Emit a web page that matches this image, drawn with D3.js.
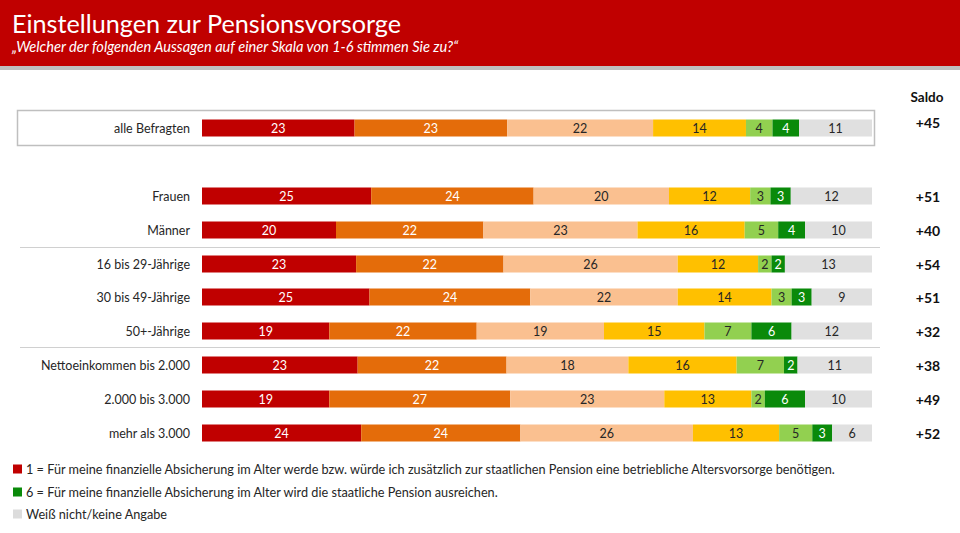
<!DOCTYPE html>
<html><head><meta charset="utf-8">
<script src="https://cdn.jsdelivr.net/npm/d3@7"></script>
<style>
html,body{margin:0;padding:0;background:#fff;}
svg{display:block;font-family:Lato,"Open Sans",sans-serif;}
</style></head>
<body>
<svg id="chart" width="960" height="533"></svg>
<script>
const categories = ["alle Befragten","Frauen","Männer","16 bis 29-Jährige","30 bis 49-Jährige","50+-Jährige","Nettoeinkommen bis 2.000","2.000 bis 3.000","mehr als 3.000"];
const scaleKeys = ["s1","s2","s3","s4","s5","s6","wn"];
const s1 = [23,25,20,23,25,19,23,19,24];
const s2 = [23,24,22,22,24,22,22,27,24];
const s3 = [22,20,23,26,22,19,18,23,26];
const s4 = [14,12,16,12,14,15,16,13,13];
const s5 = [4,3,5,2,3,7,7,2,5];
const s6 = [4,3,4,2,3,6,2,6,3];
const wn = [11,12,10,13,9,12,11,10,6];
const saldo = ["+45","+51","+40","+54","+51","+32","+38","+49","+52"];
const colors = ["#C00000","#E46C0A","#FAC090","#FFC000","#92D050","#0A8A0A","#E0E0E0"];
const textColors = ["#fff","#fff","#262626","#262626","#262626","#fff","#262626"];
const legendItems = [
  {c:"#C00000", t:"1 = Für meine finanzielle Absicherung im Alter werde bzw. würde ich zusätzlich zur staatlichen Pension eine betriebliche Altersvorsorge benötigen."},
  {c:"#0A8A0A", t:"6 = Für meine finanzielle Absicherung im Alter wird die staatliche Pension ausreichen."},
  {c:"#DCDCDC", t:"Weiß nicht/keine Angabe"}
];

const series = [s1,s2,s3,s4,s5,s6,wn];
const rows = categories.map((c,i)=>{const o={cat:c,saldo:saldo[i]}; scaleKeys.forEach((k,j)=>o[k]=series[j][i]); return o;});

const svg = d3.select("#chart");
// header
svg.append("rect").attr("x",0).attr("y",0).attr("width",960).attr("height",66).attr("fill","#C00000");
svg.append("rect").attr("x",0).attr("y",66).attr("width",960).attr("height",4).attr("fill","#BFBFBF");
svg.append("text").attr("x",12).attr("y",33).attr("fill","#fff").attr("font-size",25.2).text("Einstellungen zur Pensionsvorsorge");
svg.append("text").attr("x",12).attr("y",52).attr("fill","#fff").attr("font-size",14.6).attr("font-style","italic").text("„Welcher der folgenden Aussagen auf einer Skala von 1-6 stimmen Sie zu?“");

const yPos = [128,196,230,264,297,331,365,399,433];
const y = d3.scaleOrdinal().domain(categories).range(yPos);
const x = d3.scaleLinear().domain([0,1]).range([202,872]);
const bh = 17;

// box around first row
svg.append("rect").attr("x",17.5).attr("y",110.5).attr("width",857).attr("height",35).attr("fill","none").attr("stroke","#BFBFBF").attr("stroke-width",1.5);
// separators
[247,347].forEach(v=>svg.append("line").attr("x1",20).attr("x2",880).attr("y1",v+0.5).attr("y2",v+0.5).attr("stroke","#D0D0D0").attr("stroke-width",1));

const stack = d3.stack().keys(scaleKeys).offset(d3.stackOffsetExpand);
const stacked = stack(rows);

const g = svg.append("g");
stacked.forEach((layer,li)=>{
  const lg = g.append("g");
  lg.selectAll("rect").data(layer).join("rect")
    .attr("x",d=>x(d[0])).attr("width",d=>x(d[1])-x(d[0]))
    .attr("y",d=>y(d.data.cat)-bh/2).attr("height",bh)
    .attr("fill",colors[li]);
  lg.selectAll("text").data(layer).join("text")
    .attr("x",d=>(x(d[0])+x(d[1]))/2).attr("y",d=>y(d.data.cat)+4.5)
    .attr("text-anchor","middle").attr("font-size",12.5).attr("fill",textColors[li])
    .text(d=>d.data[layer.key]);
});

// category labels
svg.append("g").selectAll("text").data(rows).join("text")
  .attr("x",190).attr("y",d=>y(d.cat)+4.5).attr("text-anchor","end")
  .attr("font-size",12.5).attr("fill","#262626").text(d=>d.cat);

// saldo
svg.append("text").attr("x",927).attr("y",102).attr("text-anchor","middle").attr("font-size",13.5).attr("font-weight","bold").attr("fill","#111").text("Saldo");
svg.append("g").selectAll("text").data(rows).join("text")
  .attr("x",928).attr("y",(d,i)=>y(d.cat)+(i===0?0:6)).attr("text-anchor","middle")
  .attr("font-size",14).attr("font-weight","bold").attr("fill","#111").text(d=>d.saldo);

// legend
const lgY = [469,492,514];
legendItems.forEach((it,i)=>{
  svg.append("rect").attr("x",13).attr("y",lgY[i]-4.5).attr("width",9).attr("height",9).attr("fill",it.c);
  svg.append("text").attr("x",26).attr("y",lgY[i]+4.5).attr("font-size",12.7).attr("fill","#262626").text(it.t);
});
</script>
</body></html>
